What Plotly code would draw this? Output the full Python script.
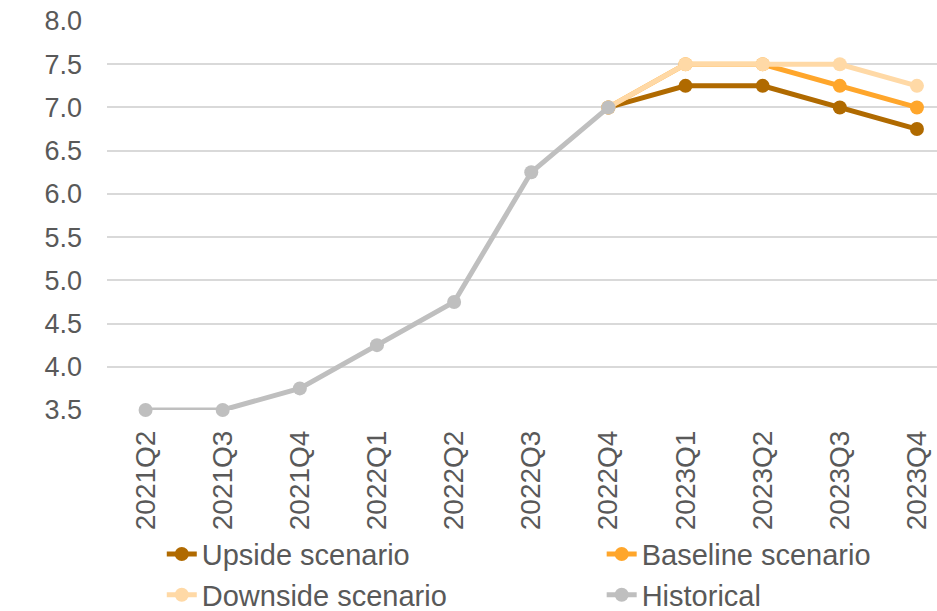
import plotly.graph_objects as go

quarters = ["2021Q2", "2021Q3", "2021Q4", "2022Q1", "2022Q2", "2022Q3",
            "2022Q4", "2023Q1", "2023Q2", "2023Q3", "2023Q4"]

hist_q = quarters[:7]
historical = [3.5, 3.5, 3.75, 4.25, 4.75, 6.25, 7.0]

proj_q = quarters[6:]
upside = [7.0, 7.25, 7.25, 7.0, 6.75]
baseline = [7.0, 7.5, 7.5, 7.25, 7.0]
downside = [7.0, 7.5, 7.5, 7.5, 7.25]

FONT = "Liberation Sans, Arial, sans-serif"
TEXT = "#595959"

# (name, x, y, colour, legend column)
series = [
    ("Upside scenario", proj_q, upside, "#B06A00", "legend"),
    ("Baseline scenario", proj_q, baseline, "#FFA62B", "legend2"),
    ("Downside scenario", proj_q, downside, "#FFD9A6", "legend"),
    ("Historical", hist_q, historical, "#BFBFBF", "legend2"),
]

fig = go.Figure()
for name, xs, ys, color, leg in series:
    fig.add_trace(go.Scatter(
        x=xs, y=ys, name=name, mode="lines+markers",
        line=dict(color=color, width=5),
        marker=dict(color=color, size=14),
        cliponaxis=False, legend=leg,
    ))

legend_style = dict(
    orientation="v", xanchor="left", yanchor="top", y=-0.305,
    font=dict(size=29, color=TEXT), tracegroupgap=0,
    bgcolor="rgba(0,0,0,0)",
)

fig.update_layout(
    width=937, height=611,
    margin=dict(l=107, r=0, t=21, b=201, autoexpand=False),
    paper_bgcolor="white", plot_bgcolor="white",
    font=dict(family=FONT, color=TEXT),
    showlegend=True,
    legend=dict(x=0.066, **legend_style),
    legend2=dict(x=0.596, **legend_style),
    xaxis=dict(
        type="category", categoryorder="array", categoryarray=quarters,
        range=[-0.5, 10.26],
        showgrid=False, zeroline=False, showline=False,
        ticks="", tickangle=-90, ticklabelstandoff=14,
        tickfont=dict(size=28, color=TEXT),
    ),
    yaxis=dict(
        range=[3.5, 8.0], dtick=0.5, tick0=3.5, tickformat=".1f",
        showgrid=True, gridcolor="#D9D9D9", gridwidth=1.8,
        zeroline=False, showline=False, ticks="",
        ticklabelstandoff=24,
        tickfont=dict(size=27, color=TEXT),
    ),
)

fig.write_html("out.html")
